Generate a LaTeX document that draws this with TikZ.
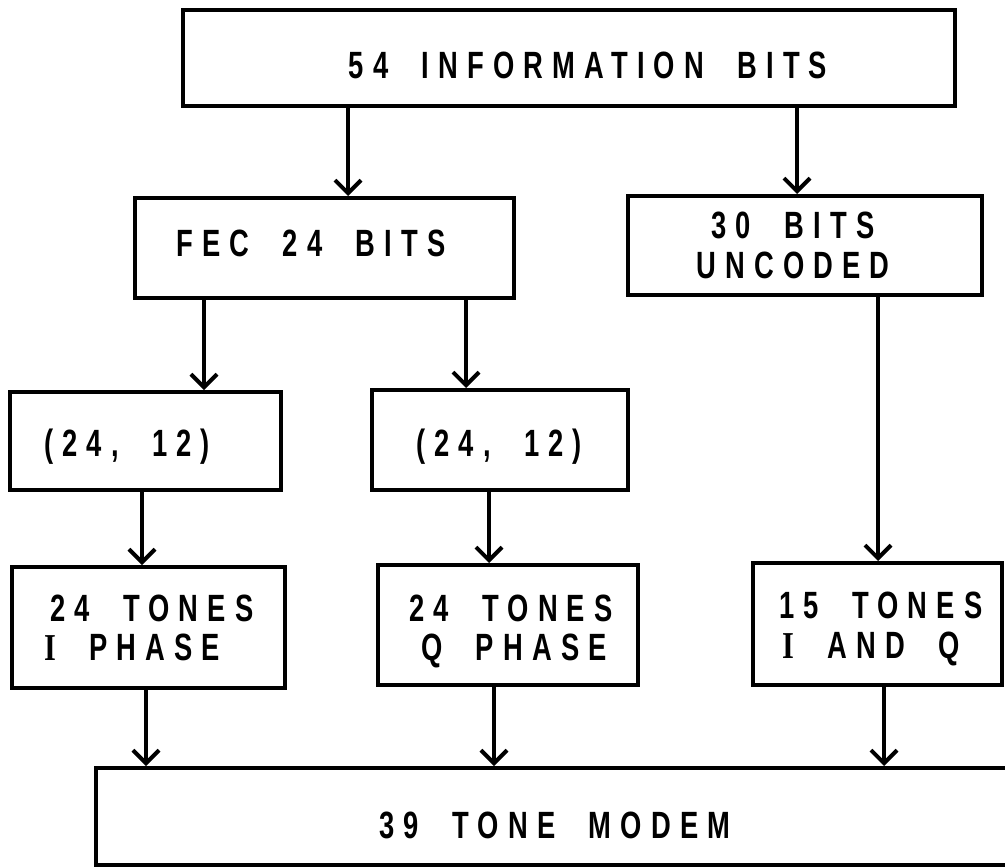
\documentclass[tikz,border=0pt]{standalone}
\usepackage{fontspec}
\setmainfont{Liberation Sans}
\newfontfamily\lab[FakeStretch=0.72,LetterSpace=24,WordSpace=2]{Liberation Sans}
\newfontfamily\serI[FakeStretch=0.8]{Liberation Serif}
\usetikzlibrary{arrows.meta}
\begin{document}
\begin{tikzpicture}[x=1pt,y=-1pt,
  box/.style={draw,line width=4pt,inner sep=0pt},
  lbl/.style={anchor=base,inner sep=0pt,font=\lab\bfseries\fontsize{38}{42}\selectfont},
  arr/.style={line width=4pt,-{Straight Barb[length=13pt,width=26pt]}}]
\useasboundingbox (0,0) rectangle (1005,867);
% boxes
\node[box,minimum width=772pt,minimum height=96pt] (top) at (569,58) {};
\node[box,minimum width=379pt,minimum height=100pt] (fec) at (324.5,248) {};
\node[box,minimum width=354pt,minimum height=99pt] (unc) at (805,245.5) {};
\node[box,minimum width=271pt,minimum height=98pt] (ca) at (145.5,441) {};
\node[box,minimum width=256pt,minimum height=100pt] (cb) at (500,440) {};
\node[box,minimum width=273pt,minimum height=121pt] (ti) at (148.5,627.5) {};
\node[box,minimum width=260pt,minimum height=120pt] (tq) at (508,625) {};
\node[box,minimum width=249pt,minimum height=122pt] (tu) at (877.5,624) {};
\node[box,minimum width=934pt,minimum height=97pt] (modem) at (563,816.5) {};
% labels
\node[lbl] (ttop) at (588,78) {54 INFORMATION BITS};
\node[lbl] (tfec) at (311,256) {FEC 24 BITS};
\node[lbl] (tunc1) at (793,238) {30 BITS};
\node[lbl] (tunc2) at (793,278) {UNCODED};
\node[lbl] (tca) at (127,456) {(24, 12)};
\node[lbl] (tcb) at (499,456) {(24, 12)};
\node[lbl,anchor=base west] (tti1) at (50,621) {24 TONES};
\node[lbl,anchor=base west] (tti2) at (44,660) {{\serI\bfseries I} PHASE};
\node[lbl] (ttq1) at (511,621) {24 TONES};
\node[lbl] (ttq2) at (514,660) {Q PHASE};
\node[lbl,anchor=base west] (ttu1) at (779,618) {15 TONES};
\node[lbl,anchor=base west] (ttu2) at (782,658) {{\serI\bfseries I} AND Q};
\node[lbl] (tmodem) at (555,838) {39 TONE MODEM};
% arrow x positions
\coordinate (xa) at (348,0);
\coordinate (xb) at (797,0);
\coordinate (xc) at (204,0);
\coordinate (xd) at (466,0);
\coordinate (xe) at (878,0);
\coordinate (xf) at (142,0);
\coordinate (xg) at (489,0);
\coordinate (xh) at (146,0);
\coordinate (xi) at (494,0);
\coordinate (xj) at (884,0);
% connectors
\draw[arr] (top.south -| xa) -- (fec.north -| xa);
\draw[arr] (top.south -| xb) -- (unc.north -| xb);
\draw[arr] (fec.south -| xc) -- (ca.north -| xc);
\draw[arr] (fec.south -| xd) -- (cb.north -| xd);
\draw[arr] (unc.south -| xe) -- (tu.north -| xe);
\draw[arr] (ca.south -| xf) -- (ti.north -| xf);
\draw[arr] (cb.south -| xg) -- (tq.north -| xg);
\draw[arr] (ti.south -| xh) -- (modem.north -| xh);
\draw[arr] (tq.south -| xi) -- (modem.north -| xi);
\draw[arr] (tu.south -| xj) -- (modem.north -| xj);
\end{tikzpicture}
\end{document}
